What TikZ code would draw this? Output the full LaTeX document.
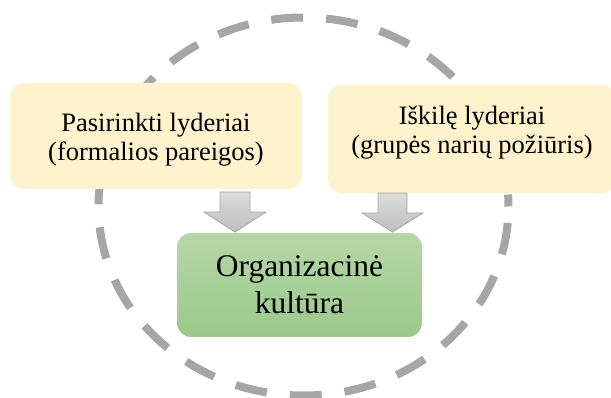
\documentclass[tikz,border=0pt]{standalone}
\usepackage{fontspec}
\setmainfont{Liberation Serif}
\usetikzlibrary{calc}
\definecolor{ringgray}{HTML}{A6A6A6}
\definecolor{boxyellow}{HTML}{FFF2CC}
\definecolor{greentop}{HTML}{B5D7A8}
\definecolor{greenbot}{HTML}{9BC98A}
\definecolor{arrowtop}{HTML}{DCDCDC}
\definecolor{arrowbot}{HTML}{BEBEBE}
\definecolor{arrowedge}{HTML}{A6A6A6}
\tikzset{
  ring/.style={draw=ringgray, line width=8pt, dash pattern=on 32pt off 23pt, dash phase=20pt},
  ybox/.style={fill=boxyellow, rounded corners=14pt, draw=none, inner sep=0pt},
  gbox/.style={top color=greentop, bottom color=greenbot, rounded corners=14pt, draw=none, inner sep=0pt,
    minimum width=245pt, minimum height=104pt, align=center, font=\fontsize{31.5}{37}\selectfont},
  txt/.style={align=center, inner sep=0pt, font=\fontsize{26.5}{29}\selectfont},
  blockarrow/.style={draw=arrowedge, line width=0.8pt, top color=arrowtop, bottom color=arrowbot}
}
\begin{document}
\begin{tikzpicture}[x=1pt,y=1pt]
\useasboundingbox (0,0) rectangle (611,-398);
\draw[ring] (303.5,-206.5) ellipse [x radius=205, y radius=189];
\node[ybox, minimum width=292pt, minimum height=106pt] (selbox) at (156,-136) {};
\node[txt] (sel) at (156,-139.4) {Pasirinkti lyderiai\\(formalios pareigos)};
\node[ybox, minimum width=288pt, minimum height=108pt] (emebox) at (472,-139) {};
\node[txt] (eme) at (472,-132.4) {Iškilę lyderiai\\(grupės narių požiūris)};
\node[gbox] (org) at (299.5,-285) {Organizacinė\\kultūra};
\coordinate (a1) at (235,-192);
\coordinate (a2) at (392.5,-193);
\path[blockarrow] (a1) ++(-15,0) -- ++(30,0) -- ++(0,-20) -- ++(16,0) -- ++(-31,-20) -- ++(-31,20) -- ++(16,0) -- cycle;
\path[blockarrow] (a2) ++(-14.5,0) -- ++(29,0) -- ++(0,-20) -- ++(16,0) -- ++(-30.5,-19) -- ++(-30.5,19) -- ++(16,0) -- cycle;
\end{tikzpicture}
\end{document}
